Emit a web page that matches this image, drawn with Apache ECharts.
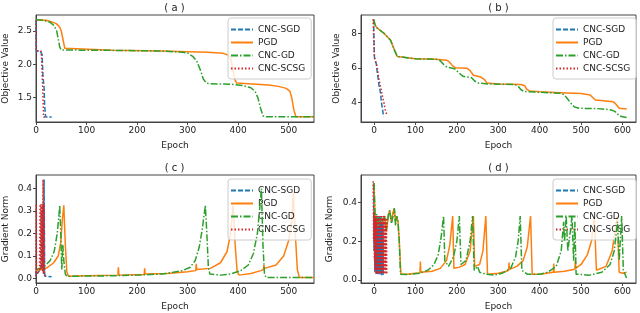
<!DOCTYPE html>
<html><head><meta charset="utf-8">
<script src="https://cdn.jsdelivr.net/npm/echarts@6/dist/echarts.min.js"></script>
<style>html,body{margin:0;padding:0;background:#fff}#c{width:640px;height:313px}</style>
</head><body><div id="c"></div>
<script>
// ---------- data ----------
const seriesNames = ['CNC-SGD', 'PGD', 'CNC-GD', 'CNC-SCSG'];
const panelTitles = ['( a )', '( b )', '( c )', '( d )'];
const yNames = ['Objective Value', 'Objective Value', 'Gradient Norm', 'Gradient Norm'];
const xTicksA = [0, 100, 200, 300, 400, 500];
const xTicksB = [0, 100, 200, 300, 400, 500, 600];
const yTicksA = [1.5, 2.0, 2.5];
const yTicksB = [4, 6, 8];
const yTicksC = [0.0, 0.1, 0.2, 0.3, 0.4];
const yTicksD = [0.0, 0.2, 0.4];

// (a) objective value
const aSgd = [[0,2.66],[0.5,2.2],[8,2.2],[12,2.15],[14,1.8],[16,1.65],[17,1.4],[19,1.21],[31,1.21]];
const aPgd = [[0,2.67],[20,2.66],[30,2.64],[40,2.61],[46,2.57],[50,2.5],[54,2.35],[57,2.24],[60,2.215],[150,2.21],[250,2.2],[300,2.19],[340,2.18],[370,2.165],[380,2.14],[385,2.1],[389,1.95],[393,1.78],[397,1.72],[420,1.71],[460,1.69],[480,1.67],[495,1.64],[502,1.6],[506,1.5],[510,1.32],[514,1.22],[518,1.215],[550,1.215]];
const aGd = [[0,2.67],[15,2.66],[28,2.63],[36,2.58],[41,2.5],[44,2.38],[47,2.26],[50,2.215],[150,2.21],[250,2.2],[290,2.18],[300,2.17],[310,2.12],[318,2.05],[325,1.92],[331,1.78],[337,1.72],[345,1.71],[390,1.7],[410,1.68],[425,1.65],[433,1.6],[439,1.5],[444,1.35],[449,1.23],[453,1.215],[550,1.215]];
const aScsg = [[0,2.66],[0.5,2.2],[10,2.2],[11,2.1],[12,1.9],[13,1.7],[14,1.45],[15,1.21],[22,1.21]];

// (b) objective value
const bSgd = [[-1,8.8],[0,7.6],[1,6.6],[4,6.5],[6,6.2],[8,5.7],[10,5.4],[12,5.0],[14,4.8],[16,4.5],[18,4.0],[20,3.7],[22,3.4],[23,3.2]];
const bPgd = [[-1,8.8],[3,8.45],[8,8.29],[24,8.0],[40,7.6],[50,7.0],[56,6.66],[60,6.56],[100,6.53],[150,6.5],[175,6.45],[182,6.35],[190,6.12],[196,6.02],[225,5.98],[232,5.85],[240,5.58],[258,5.48],[266,5.35],[273,5.13],[300,5.08],[355,5.05],[364,4.98],[368,4.8],[375,4.68],[400,4.63],[450,4.58],[500,4.53],[522,4.45],[528,4.3],[535,4.15],[560,4.1],[578,4.05],[585,3.9],[592,3.68],[610,3.64]];
const bGd = [[-1,8.8],[3,8.45],[8,8.29],[24,8.0],[40,7.6],[50,7.0],[56,6.66],[60,6.56],[100,6.53],[150,6.5],[160,6.42],[168,6.2],[176,6.05],[195,5.95],[205,5.72],[215,5.52],[235,5.45],[243,5.25],[252,5.13],[275,5.08],[340,5.05],[348,4.95],[355,4.75],[362,4.65],[400,4.6],[450,4.55],[460,4.45],[468,4.2],[476,3.95],[484,3.75],[495,3.68],[540,3.66],[570,3.6],[582,3.5],[590,3.3],[597,3.2],[610,3.15]];
const bScsg = [[-2,8.8],[-1,7.8],[1,6.6],[5,6.5],[8,6.0],[11,5.5],[14,5.1],[17,4.8],[20,4.4],[24,4.0],[27,3.6],[29,3.45],[31,3.3]];

// (c) gradient norm
const cSgd = [[0,0.03],[0.5,0.01],[2,0.02],[5,0.03],[9,0.04],[11,0.05],[12,0.3],[13,0.05],[14,0.33],[15,0.02],[16,0.44],[17,0.03],[18,0.01],[31,0.008]];
const cPgd = [[0,0.035],[20,0.045],[35,0.07],[44,0.1],[49,0.16],[52,0.26],[55,0.325],[58,0.15],[61,0.03],[64,0.01],[100,0.012],[162,0.015],[163,0.05],[164,0.015],[214,0.018],[215,0.045],[216,0.02],[260,0.022],[300,0.03],[316,0.035],[317,0.065],[318,0.04],[345,0.045],[365,0.07],[378,0.12],[385,0.2],[390,0.325],[394,0.15],[398,0.03],[402,0.015],[425,0.022],[445,0.035],[450,0.04],[451,0.06],[452,0.045],[475,0.06],[490,0.1],[500,0.17],[506,0.26],[509,0.38],[513,0.2],[517,0.04],[521,0.005],[550,0.005]];
const cGd = [[0,0.04],[15,0.05],[28,0.08],[36,0.12],[42,0.2],[45,0.27],[47,0.325],[49,0.2],[51,0.04],[53,0.15],[55,0.08],[58,0.02],[61,0.01],[150,0.012],[200,0.015],[250,0.02],[290,0.035],[305,0.05],[315,0.08],[323,0.14],[329,0.22],[333,0.29],[335,0.325],[338,0.2],[341,0.05],[344,0.02],[365,0.015],[385,0.02],[405,0.035],[420,0.06],[430,0.11],[438,0.2],[443,0.32],[446,0.4],[449,0.15],[452,0.02],[455,0.005],[550,0.005]];
const cScsg = [[0,0.01],[0.5,0.33],[1,0.02],[3,0.02],[5,0.03],[7,0.04],[8,0.33],[9,0.04],[10,0.33],[11,0.04],[12,0.33],[13,0.03],[14,0.44],[15,0.02],[16,0.33],[17,0.01],[20,0.005]];

// (d) gradient norm
const dSgd = [[-1,0.5],[0,0.15],[1,0.33],[2,0.04],[3,0.32],[4,0.05],[5,0.33],[6,0.03],[7,0.32],[8,0.04],[9,0.33],[10,0.03],[11,0.32],[12,0.05],[13,0.33],[14,0.03],[15,0.3],[16,0.04],[17,0.33],[18,0.02],[19,0.3],[20,0.04],[21,0.32],[22,0.02]];
const dPgd = [[0,0.5],[3,0.3],[6,0.33],[10,0.28],[15,0.32],[20,0.3],[25,0.33],[30,0.25],[35,0.34],[38,0.36],[42,0.3],[46,0.35],[49,0.37],[52,0.3],[55,0.33],[58,0.3],[61,0.2],[65,0.03],[80,0.03],[100,0.035],[111,0.036],[112,0.095],[113,0.04],[140,0.045],[160,0.06],[175,0.1],[183,0.18],[190,0.33],[193,0.06],[205,0.065],[220,0.08],[232,0.15],[240,0.33],[243,0.07],[255,0.08],[263,0.15],[270,0.33],[274,0.03],[300,0.035],[320,0.045],[325,0.05],[326,0.09],[327,0.055],[345,0.07],[360,0.1],[370,0.17],[378,0.33],[382,0.03],[400,0.03],[433,0.04],[434,0.085],[435,0.04],[460,0.045],[485,0.055],[486,0.1],[487,0.06],[500,0.08],[515,0.13],[525,0.2],[532,0.33],[537,0.05],[560,0.07],[575,0.15],[587,0.33],[592,0.04],[600,0.035],[610,0.04]];
const dGd = [[0,0.5],[3,0.3],[6,0.34],[10,0.28],[15,0.32],[20,0.3],[25,0.33],[30,0.26],[35,0.34],[38,0.36],[42,0.29],[46,0.33],[49,0.37],[52,0.28],[55,0.33],[58,0.3],[61,0.2],[64,0.03],[80,0.028],[110,0.035],[130,0.05],[145,0.08],[155,0.13],[162,0.22],[168,0.33],[171,0.1],[180,0.07],[192,0.12],[200,0.2],[206,0.33],[210,0.08],[222,0.1],[232,0.2],[238,0.33],[242,0.05],[250,0.07],[255,0.04],[270,0.03],[290,0.025],[310,0.035],[330,0.06],[342,0.12],[348,0.2],[353,0.33],[357,0.05],[370,0.03],[400,0.03],[420,0.04],[440,0.07],[452,0.15],[458,0.3],[460,0.2],[464,0.33],[468,0.15],[474,0.25],[478,0.33],[482,0.1],[485,0.3],[488,0.03],[520,0.025],[550,0.04],[570,0.08],[580,0.15],[588,0.3],[592,0.1],[598,0.33],[602,0.05],[610,0.01]];
const dScsg = [[-2,0.51],[-1,0.2],[0,0.35],[1,0.1],[2,0.33],[3,0.05],[4,0.32],[5,0.03],[6,0.33],[7,0.04],[8,0.31],[9,0.03],[10,0.33],[11,0.05],[12,0.32],[13,0.03],[14,0.33],[15,0.04],[16,0.3],[17,0.03],[18,0.33],[19,0.05],[20,0.32],[21,0.03],[22,0.33],[23,0.04],[24,0.3],[25,0.03],[26,0.33],[27,0.05],[28,0.3],[29,0.03],[30,0.32],[31,0.03]];

// ---------- layout / styles ----------
const panelData = [[aSgd,aPgd,aGd,aScsg],[bSgd,bPgd,bGd,bScsg],[cSgd,cPgd,cGd,cScsg],[dSgd,dPgd,dGd,dScsg]];
const grids = [
  {left:35, top:15, width:279, height:107},
  {left:361, top:15, width:275, height:107},
  {left:35, top:175, width:279, height:108},
  {left:361, top:175, width:275, height:108}
];
const xRanges = [[0,550],[-31.4,632.6],[0,550],[-31.4,632.6]];
const yRanges = [[1.136,2.74],[2.89,9.05],[-0.02,0.46],[-0.0156,0.542]];
const xTicks = [xTicksA, xTicksB, xTicksA, xTicksB];
const yTicks = [yTicksA, yTicksB, yTicksC, yTicksD];
const yDec = [1,0,1,1];
const yNameGap = [26,20,26,27];
const colors = ['#1f77b4','#ff7f0e','#2ca02c','#d62728'];
const dashes = [[5,2],'solid',[7,2,1.5,2],[1.5,2]];
const FONT = 'DejaVu Sans';
const tc = '#222';

const option = {
  animation:false,
  grid: grids.map(g => Object.assign({show:true, borderColor:'#444', borderWidth:1, backgroundColor:'transparent'}, g)),
  title: panelTitles.map((t,i) => ({
    text:t, left: grids[i].left + grids[i].width/2, top: grids[i].top - 12, textAlign:'center',
    textStyle:{fontFamily:FONT, fontSize:10, fontWeight:'normal', color:tc}, padding:0
  })),
  xAxis: grids.map((g,i) => ({
    type:'value', gridIndex:i, min:xRanges[i][0], max:xRanges[i][1],
    name:'Epoch', nameLocation:'middle', nameGap:19,
    nameTextStyle:{fontFamily:FONT, fontSize:9, color:tc},
    axisLine:{show:true, onZero:false, lineStyle:{color:'#444'}},
    axisTick:{show:true, length:3, customValues:xTicks[i], lineStyle:{color:'#444'}},
    axisLabel:{customValues:xTicks[i], margin:4, fontFamily:FONT, fontSize:9, color:tc},
    splitLine:{show:false}
  })),
  yAxis: grids.map((g,i) => ({
    type:'value', gridIndex:i, min:yRanges[i][0], max:yRanges[i][1],
    name:yNames[i], nameLocation:'middle', nameGap:yNameGap[i],
    nameTextStyle:{fontFamily:FONT, fontSize:9, color:tc},
    axisLine:{show:true, onZero:false, lineStyle:{color:'#444'}},
    axisTick:{show:true, length:3, customValues:yTicks[i], lineStyle:{color:'#444'}},
    axisLabel:{customValues:yTicks[i], margin:4, fontFamily:FONT, fontSize:9, color:tc,
      formatter: v => Number(v).toFixed(yDec[i])},
    splitLine:{show:false}
  })),
  legend: grids.map((g,i) => ({
    orient:'vertical', left: i%2===0 ? 228 : 553, top: g.top + (i<2 ? 3 : 4),
    data: seriesNames, itemWidth:22, itemHeight:10, itemGap:4,
    padding:[7,6,6,2], backgroundColor:'rgba(255,255,255,0.8)', borderColor:'#ccc', borderWidth:1, borderRadius:3,
    itemStyle:{opacity:0},
    textStyle:{fontFamily:FONT, fontSize:9, color:tc}
  })),
  series: []
};
panelData.forEach((arr,i) => {
  arr.forEach((d,k) => {
    option.series.push({
      type:'line', name:seriesNames[k], xAxisIndex:i, yAxisIndex:i, data:d,
      showSymbol:false, symbol:'none', clip:true, z: 2 + k,
      lineStyle:{color:colors[k], width:1.5, type:dashes[k]},
      itemStyle:{color:colors[k]}
    });
  });
});
const chart = echarts.init(document.getElementById('c'), null, {renderer:'canvas'});
chart.setOption(option);
</script>
</body></html>
